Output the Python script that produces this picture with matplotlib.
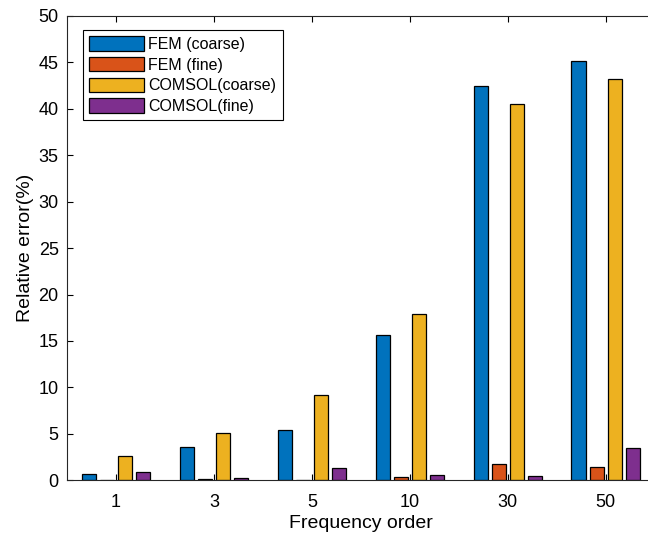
import matplotlib.pyplot as plt
import numpy as np

plt.rcParams['font.family'] = ['Liberation Sans', 'DejaVu Sans']

orders = ['1', '3', '5', '10', '30', '50']
fem_coarse = [0.7, 3.6, 5.4, 15.6, 42.5, 45.2]
fem_fine = [0.05, 0.1, 0.05, 0.4, 1.7, 1.45]
comsol_coarse = [2.65, 5.1, 9.2, 17.9, 40.5, 43.2]
comsol_fine = [0.85, 0.2, 1.3, 0.55, 0.5, 3.5]

series = [fem_coarse, fem_fine, comsol_coarse, comsol_fine]
names = ['FEM (coarse)', 'FEM (fine)', 'COMSOL(coarse)', 'COMSOL(fine)']
colors = ['#0072BD', '#D95319', '#EDB120', '#7E2F8E']

fig = plt.figure(figsize=(6.48, 5.38), dpi=100)
ax = fig.add_axes([0.1034, 0.1073, 0.907, 0.863])

x = np.arange(1, len(orders) + 1)
step = 0.184
w = 0.148
for i, (vals, name, c) in enumerate(zip(series, names, colors)):
    ax.bar(x + (i - 1.5) * step, vals, w, color=c, edgecolor='black',
           linewidth=0.9, label=name)

ax.set_xlim(0.5, 6.5)
ax.set_ylim(0, 50)
ax.set_xticks(x)
ax.set_xticklabels(orders)
ax.set_yticks(np.arange(0, 51, 5))
ax.tick_params(direction='in', top=True, right=True, labelsize=13, length=4,
               width=0.8)
ax.tick_params(axis='x', pad=10)
ax.tick_params(axis='y', pad=6)
for s in ax.spines.values():
    s.set_linewidth(0.8)
    s.set_color('#262626')

ax.set_xlabel('Frequency order', fontsize=14, labelpad=3)
ax.set_ylabel('Relative error(%)', fontsize=14, labelpad=3)

leg = ax.legend(loc='upper left', bbox_to_anchor=(0.027, 0.970), fontsize=11.5,
                fancybox=False, framealpha=1, edgecolor='black',
                handlelength=3.4, handleheight=1.0, handletextpad=0.3,
                labelspacing=0.32, borderpad=0.4, borderaxespad=0)
leg.get_frame().set_linewidth(0.8)

fig.savefig('out.png', dpi=100)
